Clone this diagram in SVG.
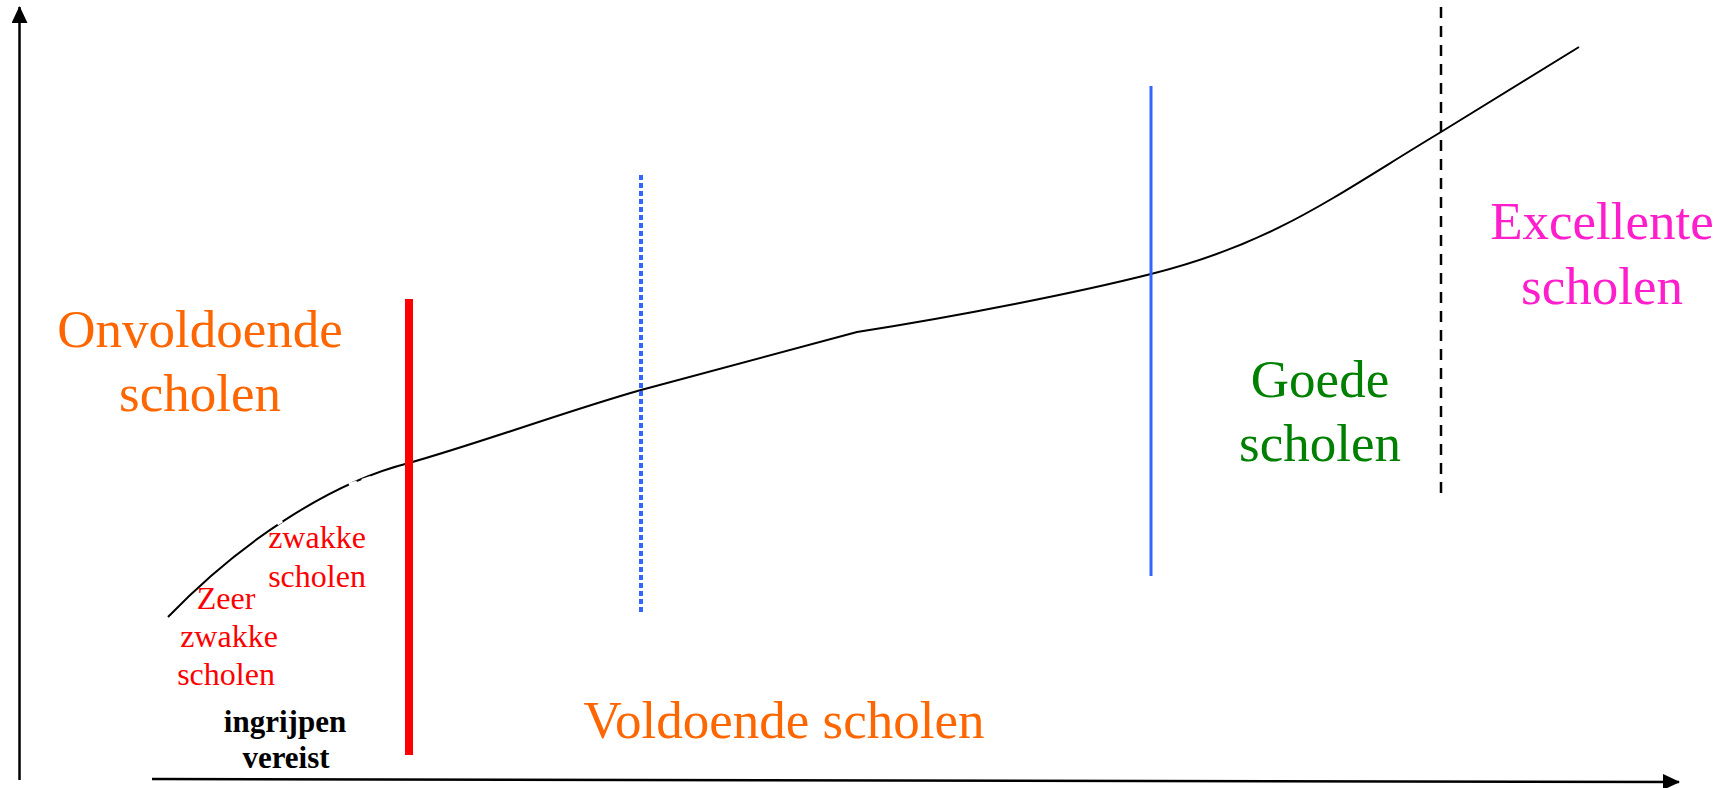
<svg xmlns="http://www.w3.org/2000/svg" width="1731" height="788" viewBox="0 0 1731 788">
<style>
.big{font-family:"Liberation Serif","Times New Roman",serif;font-size:53px;text-anchor:middle}
.small{font-family:"Liberation Serif","Times New Roman",serif;font-size:32px;text-anchor:middle;fill:#FF0000}
.bold{font-family:"Liberation Serif","Times New Roman",serif;font-size:31px;font-weight:bold;text-anchor:middle;fill:#000}
.ax{stroke:#000;stroke-width:2.5;fill:none}
.gap{stroke:#fff;stroke-width:4}
</style>
<defs>
<marker id="ah" viewBox="0 0 17 16" refX="16" refY="8" markerWidth="17" markerHeight="16" markerUnits="userSpaceOnUse" orient="auto">
<path d="M0,0 L17,8 L0,16 Z" fill="#000"/>
</marker>
</defs>
<rect width="1731" height="788" fill="#fff"/>
<g id="connectors">
<line class="ax" x1="19.5" y1="780" x2="19.5" y2="7" marker-end="url(#ah)"/>
<line class="ax" x1="152" y1="779" x2="1679" y2="782" marker-end="url(#ah)"/>
<path id="curve" d="M168,617 C238,544 329,483 409,463 C480,443 570,410 641,390 L857,332 C960,316 1080,292 1151,274 C1275,243 1336,195 1441,132 L1579,47" fill="none" stroke="#000" stroke-width="2"/>
<line class="gap" x1="277" y1="523.5" x2="282" y2="520.5"/>
<line class="gap" x1="349" y1="485" x2="357" y2="482.5"/>
<line class="gap" x1="362" y1="481" x2="371" y2="478"/>
<line id="red-line" x1="409" y1="299" x2="409" y2="755" stroke="#FF0000" stroke-width="8"/>
<line id="blue-dotted" x1="641" y1="175" x2="641" y2="613" stroke="#3366FF" stroke-width="4" stroke-dasharray="5,3"/>
<line id="blue-solid" x1="1151" y1="86" x2="1151" y2="576" stroke="#3366FF" stroke-width="3"/>
<line id="black-dashed" x1="1441" y1="7" x2="1441" y2="495" stroke="#000" stroke-width="2.5" stroke-dasharray="11,8"/>
</g>
<g id="onvoldoende">
<text class="big" fill="#FF6600" x="200" y="347">Onvoldoende</text>
<text class="big" fill="#FF6600" x="200" y="411">scholen</text>
</g>
<g id="voldoende">
<text class="big" fill="#FF6600" x="784" y="738">Voldoende scholen</text>
</g>
<g id="goede">
<text class="big" fill="#008000" x="1320" y="397">Goede</text>
<text class="big" fill="#008000" x="1320" y="461">scholen</text>
</g>
<g id="excellente">
<text class="big" fill="#FF1ECC" x="1602" y="239">Excellente</text>
<text class="big" fill="#FF1ECC" x="1602" y="304">scholen</text>
</g>
<g id="zwakke">
<text class="small" x="317" y="548">zwakke</text>
<text class="small" x="317" y="587">scholen</text>
</g>
<g id="zeer-zwakke">
<text class="small" x="226" y="609">Zeer</text>
<text class="small" x="229" y="647">zwakke</text>
<text class="small" x="226" y="685">scholen</text>
</g>
<g id="ingrijpen">
<text class="bold" x="285" y="732">ingrijpen</text>
<text class="bold" x="286" y="768">vereist</text>
</g>
</svg>
